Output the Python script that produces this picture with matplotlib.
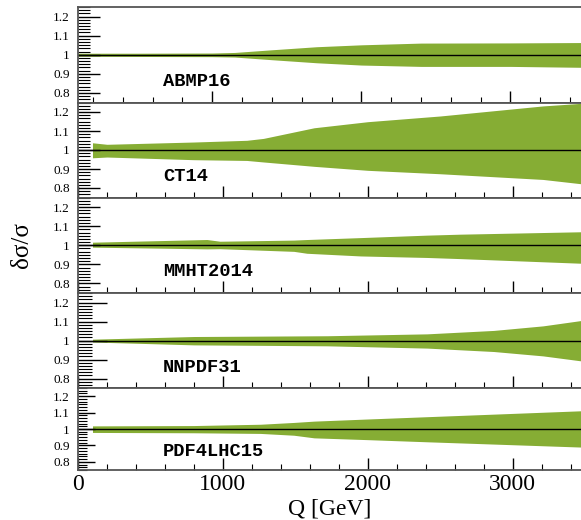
import matplotlib
matplotlib.use("Agg")
import matplotlib.pyplot as plt
from matplotlib.ticker import MultipleLocator, FixedLocator, FuncFormatter

plt.rcParams["font.family"] = ["Liberation Serif", "DejaVu Serif"]

# PDF sets and their relative uncertainty bands
pdf_names = ["ABMP16", "CT14", "MMHT2014", "NNPDF31", "PDF4LHC15"]

abmp_q = [100, 500, 1000, 1150, 1400, 1700, 2000, 2400, 3000, 3500]
abmp_up = [1.008, 1.008, 1.009, 1.012, 1.026, 1.042, 1.052, 1.061, 1.062, 1.064]
abmp_lo = [0.992, 0.991, 0.990, 0.988, 0.974, 0.958, 0.946, 0.939, 0.939, 0.934]

ct14_q = [100, 200, 800, 1165, 1280, 1630, 2000, 2500, 3210, 3500]
ct14_up = [1.038, 1.030, 1.042, 1.051, 1.061, 1.117, 1.149, 1.179, 1.232, 1.247]
ct14_lo = [0.959, 0.963, 0.949, 0.945, 0.937, 0.914, 0.893, 0.875, 0.845, 0.820]

mmht_q = [100, 890, 980, 1490, 1580, 1950, 2410, 2640, 3500]
mmht_up = [1.016, 1.030, 1.021, 1.027, 1.030, 1.040, 1.053, 1.058, 1.071]
mmht_lo = [0.990, 0.981, 0.982, 0.968, 0.958, 0.944, 0.936, 0.930, 0.905]

nnpdf_q = [100, 800, 1720, 2410, 2870, 3210, 3500]
nnpdf_up = [1.007, 1.021, 1.025, 1.035, 1.053, 1.077, 1.108]
nnpdf_lo = [0.992, 0.977, 0.972, 0.960, 0.942, 0.919, 0.890]

pdf4lhc_q = [100, 800, 1260, 1490, 1630, 2000, 2410, 3500]
pdf4lhc_up = [1.019, 1.021, 1.029, 1.040, 1.048, 1.061, 1.075, 1.112]
pdf4lhc_lo = [0.979, 0.977, 0.973, 0.962, 0.946, 0.935, 0.922, 0.889]

bands = [
    (abmp_q, abmp_up, abmp_lo),
    (ct14_q, ct14_up, ct14_lo),
    (mmht_q, mmht_up, mmht_lo),
    (nnpdf_q, nnpdf_up, nnpdf_lo),
    (pdf4lhc_q, pdf4lhc_up, pdf4lhc_lo),
]

y_ticks = [0.8, 0.9, 1.0, 1.1, 1.2]
x_ticks = [0, 1000, 2000, 3000]

W, H = 581, 520
fig = plt.figure(figsize=(W / 100, H / 100), dpi=100)

# panel edges in pixels from the top
panel_px = [(7, 102.5), (102.5, 197.5), (197.5, 293), (293, 388), (388, 470)]
xlims = [(100, 3500), (0, 3500), (0, 3500), (0, 3500), (0, 3500)]
ytick_len = [(16, 8.5), (16, 8.5), (16, 8.5), (21, 10), (12, 6.5)]
green = "#86ad34"

left = 78 / W
width = 507 / W

for i, (name, (q, up, lo)) in enumerate(zip(pdf_names, bands)):
    top, bot = panel_px[i]
    ax = fig.add_axes([left, 1 - bot / H, width, (bot - top) / H])
    ax.fill_between(q, lo, up, color=green, lw=0)
    ax.axhline(1.0, color="black", lw=1.0)
    ax.set_xlim(*xlims[i])
    ax.set_ylim(0.75, 1.25)

    ax.yaxis.set_major_locator(FixedLocator(y_ticks))
    ax.yaxis.set_minor_locator(MultipleLocator(0.1 / 6))
    ax.yaxis.set_major_formatter(FuncFormatter(lambda v, p: "%g" % v))
    ax.xaxis.set_major_locator(FixedLocator(x_ticks))
    ax.xaxis.set_minor_locator(MultipleLocator(200))

    ax.tick_params(axis="y", which="major", direction="in", length=ytick_len[i][0],
                   width=1.0, labelsize=9.5, pad=6)
    ax.tick_params(axis="y", which="minor", direction="in", length=ytick_len[i][1], width=0.8)
    ax.tick_params(axis="x", which="major", direction="in", length=9, width=1.0,
                   labelsize=17, pad=3)
    ax.tick_params(axis="x", which="minor", direction="in", length=4, width=0.8)
    if i < 4:
        ax.tick_params(axis="x", labelbottom=False)

    for s in ax.spines.values():
        s.set_color("#555555")
        s.set_linewidth(1.3)

    ax.text(0.168, 0.22, name, transform=ax.transAxes, ha="left", va="center",
            family=["Liberation Mono", "DejaVu Sans Mono"], fontweight="bold", fontsize=13.5)

fig.text(22 / W, 1 - 245 / H, "δσ/σ", rotation=90, ha="center", va="center", fontsize=18)
fig.text(330 / W, 1 - 509 / H, "Q [GeV]", ha="center", va="center", fontsize=17)

fig.savefig("out.png", dpi=100)
